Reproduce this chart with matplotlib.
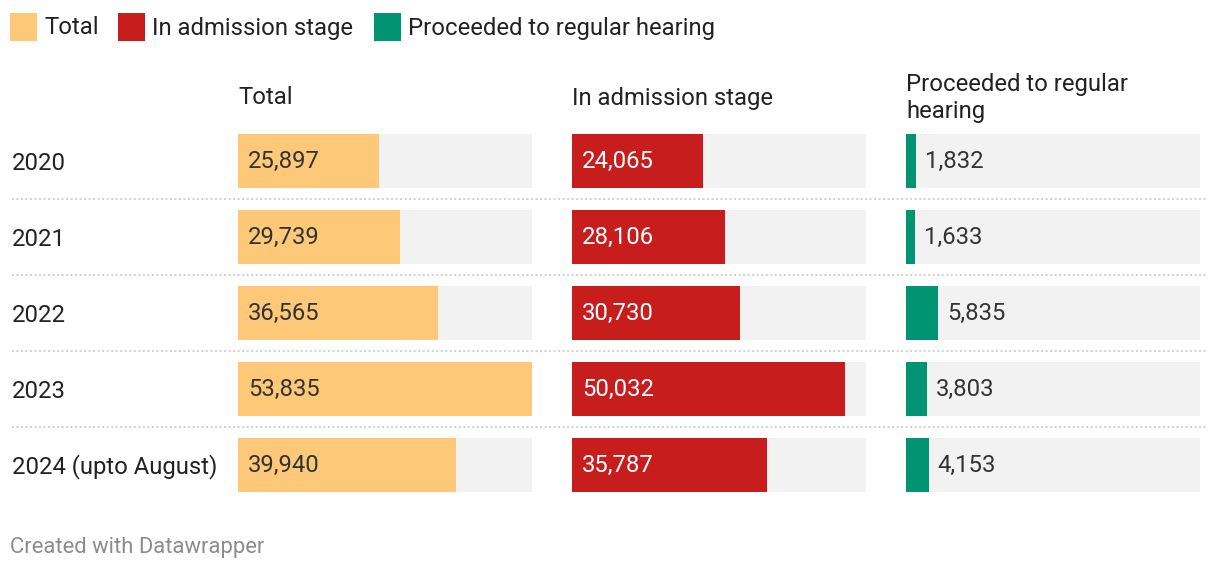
import matplotlib.pyplot as plt
from matplotlib.patches import Rectangle
from matplotlib.lines import Line2D

plt.rcParams['font.family'] = ['Roboto', 'DejaVu Sans']

years = ["2020", "2021", "2022", "2023", "2024 (upto August)"]
total = [25897, 29739, 36565, 53835, 39940]
admission = [24065, 28106, 30730, 50032, 35787]
proceeded = [1832, 1633, 5835, 3803, 4153]

headers = ["Total", "In admission stage", "Proceeded to regular\nhearing"]
legend_labels = ["Total", "In admission stage", "Proceeded to regular hearing"]
colors = ["#fdc978", "#c71e1d", "#009473"]
text_colors = ["#333333", "#ffffff", "#333333"]

W, H = 1220, 570
fig = plt.figure(figsize=(W / 100, H / 100), dpi=100)

# overlay axes in pixel coordinates for text, legend and separators
bg = fig.add_axes([0, 0, 1, 1])
bg.set_xlim(0, W)
bg.set_ylim(H, 0)
bg.axis("off")

fs = 17.2

# legend
leg_x = [10, 118, 374]
for lx, lab, c in zip(leg_x, legend_labels, colors):
    bg.add_patch(Rectangle((lx, 13), 27, 28, color=c, lw=0))
    bg.text(lx + 34, 28, lab, fontsize=fs, color="#222222", va="center", ha="left")

# columns
col_left = [238, 572, 906]
col_w = 294
row_top, pitch = 123, 76
n = len(years)
vmax = max(max(total), max(admission), max(proceeded))

for i, (vals, hdr) in enumerate(zip([total, admission, proceeded], headers)):
    ax = fig.add_axes([col_left[i] / W, (H - row_top - pitch * n) / H,
                       col_w / W, pitch * n / H])
    ax.set_xlim(0, vmax)
    ax.set_ylim(n - 0.5, -0.5)
    ax.axis("off")
    ypos = list(range(n))
    ax.barh(ypos, [vmax] * n, height=54 / 76, color="#f2f2f2", lw=0)
    ax.barh(ypos, vals, height=54 / 76, color=colors[i], lw=0)
    for y, v in zip(ypos, vals):
        lab = f"{v:,}"
        px = v / vmax * col_w
        if px > 70:
            ax.annotate(lab, (0, y), xytext=(10, 0), textcoords="offset pixels",
                        va="center", ha="left", fontsize=fs, color=text_colors[i])
        else:
            ax.annotate(lab, (v, y), xytext=(9, 0), textcoords="offset pixels",
                        va="center", ha="left", fontsize=fs, color="#333333")
    bg.text(col_left[i], 98, hdr, fontsize=fs, color="#222222",
            va="center", ha="left", linespacing=1.22)

# row labels and separators
for j, yr in enumerate(years):
    cy = row_top + pitch * j + 40
    bg.text(12, cy, yr, fontsize=fs, color="#222222", va="center", ha="left")
    if j < n - 1:
        sy = row_top + pitch * (j + 1)
        bg.add_line(Line2D([12, 1208], [sy, sy], color="#cccccc", lw=1.3,
                           linestyle=(0, (1, 1.5))))

bg.text(10, 547, "Created with Datawrapper", fontsize=15.8, color="#8c8c8c",
        va="center", ha="left")

fig.savefig("out.png", dpi=100)
